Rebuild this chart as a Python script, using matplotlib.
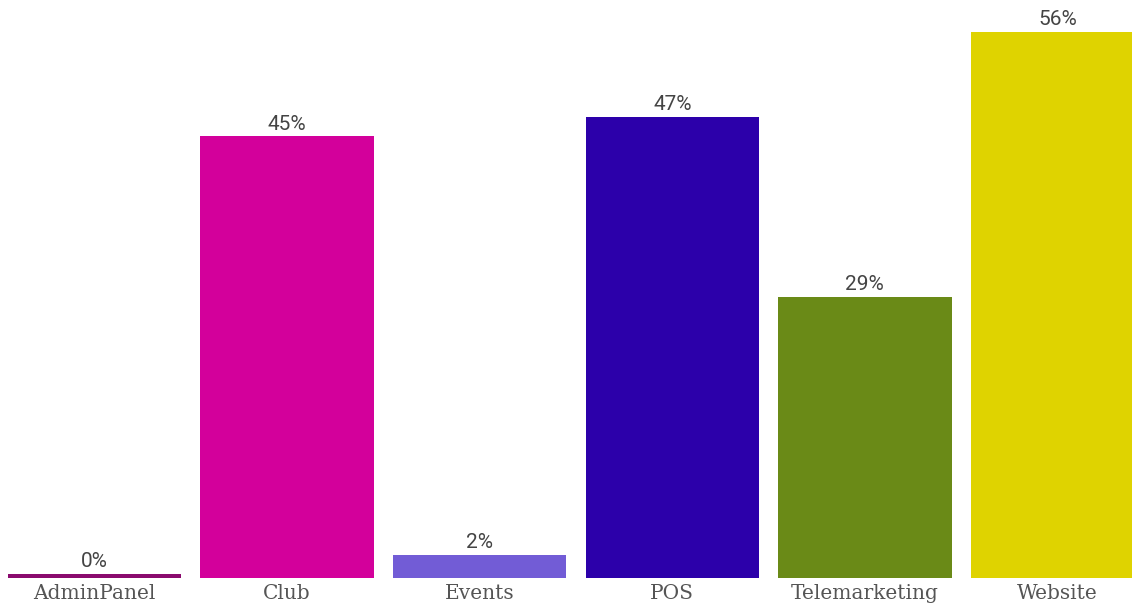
import matplotlib
matplotlib.use("Agg")
import matplotlib.pyplot as plt

categories = ["AdminPanel", "Club", "Events", "POS", "Telemarketing", "Website"]
values = [0.4, 45.3, 2.4, 47.3, 28.8, 56.0]
labels = ["0%", "45%", "2%", "47%", "29%", "56%"]
colors = ["#8A0A6E", "#D3009B", "#725CD6", "#2C00AA", "#6A8A17", "#DFD300"]

fig = plt.figure(figsize=(11.32, 6.08), dpi=100)
ax = fig.add_axes([0, 30 / 608, 1, 578 / 608])
x = list(range(len(categories)))
bars = ax.bar(x, values, width=0.9, color=colors)
for b, lab in zip(bars, labels):
    ax.annotate(lab, (b.get_x() + b.get_width() / 2, b.get_height()),
                xytext=(0, 2), textcoords="offset points", ha="center", va="bottom",
                fontsize=15, color="#444444", family=["Roboto", "DejaVu Sans"])
ax.set_xlim(-0.4907, 5.387)
ax.set_ylim(0, 59.28)
ax.set_xticks(x)
ax.set_xticklabels(categories, fontsize=14.5, color="#555555", family=["DejaVu Serif"])
ax.tick_params(axis="x", length=0, pad=4)
ax.set_yticks([])
for s in ax.spines.values():
    s.set_visible(False)
fig.savefig("out.png", dpi=100)
